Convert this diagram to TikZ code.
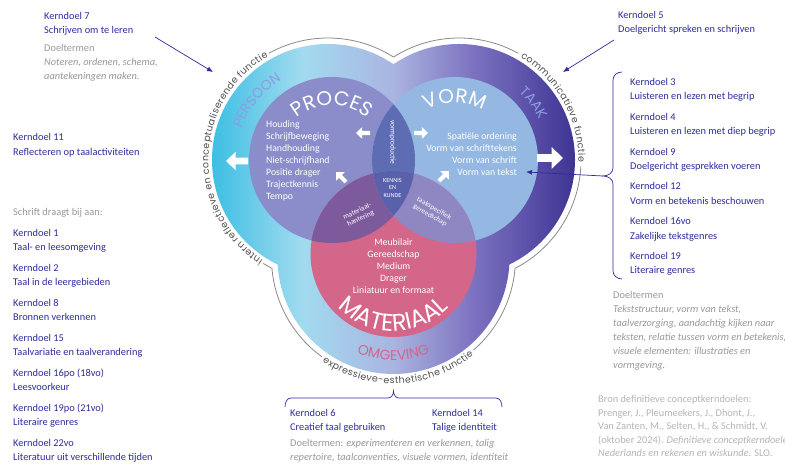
\documentclass[tikz,border=0pt]{standalone}
\usepackage{fontspec}
\setmainfont{Carlito}
\newfontfamily\geo{Poppins}
\usetikzlibrary{decorations.text,arrows.meta}
\definecolor{kdblue}{HTML}{2E2C9C}
\definecolor{dtgray}{HTML}{999999}
\definecolor{brongray}{HTML}{B5B5B5}
\definecolor{lblgray}{HTML}{505050}
\definecolor{linegray}{HTML}{8A8A8A}
\definecolor{fillP}{HTML}{8A8DC9}
\definecolor{fillV}{HTML}{95B8E2}
\definecolor{fillM}{HTML}{D4668A}
\definecolor{fillPV}{HTML}{5E6CB4}
\definecolor{fillPM}{HTML}{7C5A9C}
\definecolor{fillVM}{HTML}{8E87C2}
\definecolor{fillPVM}{HTML}{5961AA}
\definecolor{shA}{HTML}{3DBFE3}
\definecolor{shB}{HTML}{A2DBF0}
\definecolor{shC}{HTML}{AAB4E0}
\definecolor{shD}{HTML}{7C72C0}
\definecolor{shE}{HTML}{3E3494}
\definecolor{persoon}{HTML}{8C9DE0}
\definecolor{omgeving}{HTML}{D4668A}
\pgfdeclarehorizontalshading{outershade}{100bp}{color(0bp)=(shA); color(25bp)=(shA); color(37.5bp)=(shB); color(50bp)=(shC); color(61bp)=(shD); color(75bp)=(shE); color(100bp)=(shE)}
\begin{document}
\begin{tikzpicture}[x=1bp,y=1bp,
  kd/.style={anchor=base west,inner sep=0pt,text=kdblue,font=\fontsize{10.4}{12}\selectfont},
  dt/.style={kd,text=dtgray},
  bron/.style={kd,text=brongray},
  lst/.style={inner sep=0pt,text=white,font=\fontsize{9.8}{12}\selectfont},
  tinytxt/.style={inner sep=0pt,text=white,font=\fontsize{7.3}{8}\selectfont,align=center},
  outl/.style={draw=linegray,line width=0.8bp},
  annarrow/.style={draw=kdblue,line width=0.7bp,-{Latex[length=6bp,width=5bp]}},
  bracestyle/.style={draw=kdblue,line width=0.7bp},
  blockarrow/.pic={\fill[white] (-0.5,-0.15) -- (0.06,-0.15) -- (0.06,-0.42) -- (0.5,0) -- (0.06,0.42) -- (0.06,0.15) -- (-0.5,0.15) -- cycle;}
]
\useasboundingbox (0,0) rectangle (785,466);
\fill[white] (0,0) rectangle (785,466);
\coordinate (oL) at (328,306);
\coordinate (oR) at (459,306);
\coordinate (oB) at (393.5,208);
\coordinate (iP) at (332,306);
\coordinate (iV) at (455,306);
\coordinate (iM) at (393.5,212);

% outer coloured band
\shade[shading=outershade] (oL) circle[radius=116bp] (oR) circle[radius=116bp] (oB) circle[radius=116bp];

% outline
\draw[outl] (oL) ++(57.5:122bp) arc[start angle=57.5,end angle=119,radius=122bp];
\draw[outl] (oL) ++(238:122bp) arc[start angle=238,end angle=242.6,radius=122bp];
\draw[outl] (oR) ++(61:122bp) arc[start angle=61,end angle=122.5,radius=122bp];
\draw[outl] (oR) ++(-3:122bp) arc[start angle=-3,end angle=-62.6,radius=122bp];
\draw[outl] (oB) ++(184.8:122bp) arc[start angle=184.8,end angle=234,radius=122bp];
\draw[outl] (oB) ++(311:122bp) arc[start angle=311,end angle=355.2,radius=122bp];

% outline labels
\path[decorate,decoration={text along path,text color=lblgray,raise=-2.5bp,text align={fit to path},
  text={|\geo\fontsize{9.5}{10}\selectfont|intern reflectieve en conceptualiserende functie}}]
  (oL) ++(237:122bp) arc[start angle=237,end angle=120,radius=122bp];
\path[decorate,decoration={text along path,text color=lblgray,raise=-2.5bp,text align={fit to path},
  text={|\geo\fontsize{9.5}{10}\selectfont|communicatieve functie}}]
  (oR) ++(59:122bp) arc[start angle=59,end angle=-1,radius=122bp];
\path[decorate,decoration={text along path,text color=lblgray,raise=-3.8bp,text align={fit to path},
  text={|\geo\fontsize{9.5}{10}\selectfont|expressieve-esthetische functie}}]
  (oB) ++(235.5:122bp) arc[start angle=235.5,end angle=309.5,radius=122bp];

% band labels
\path[decorate,decoration={text along path,text color=persoon,text align=center,
  text={|\geo\fontsize{14}{14}\selectfont|PERSOON}}]
  (oL) ++(185:92bp) arc[start angle=185,end angle=95,radius=92bp];
\path[decorate,decoration={text along path,text color=persoon,text align=center,
  text={|\geo\fontsize{14}{14}\selectfont|TAAK}}]
  (oR) ++(65:90bp) arc[start angle=65,end angle=10,radius=90bp];
\path[decorate,decoration={text along path,text color=omgeving,text align=center,
  text={|\geo\fontsize{14}{14}\selectfont|OMGEVING}}]
  (iM) ++(225:106bp) arc[start angle=225,end angle=315,radius=106bp];

% inner circles
\fill[fillP] (iP) circle[radius=83bp];
\fill[fillV] (iV) circle[radius=83bp];
\fill[fillM] (iM) circle[radius=83bp];
\begin{scope}
  \clip (iP) circle[radius=83bp];
  \fill[fillPV] (iV) circle[radius=83bp];
  \fill[fillPM] (iM) circle[radius=83bp];
\end{scope}
\begin{scope}
  \clip (iV) circle[radius=83bp];
  \fill[fillVM] (iM) circle[radius=83bp];
\end{scope}
\begin{scope}
  \clip (iP) circle[radius=83bp];
  \clip (iV) circle[radius=83bp];
  \fill[fillPVM] (iM) circle[radius=83bp];
\end{scope}

% circle titles
\path[decorate,decoration={text along path,text color=white,text align=center,
  text={|\geo\fontsize{20}{20}\selectfont|PROCES}}]
  (iP) ++(150:55bp) arc[start angle=150,end angle=30,radius=55bp];
\path[decorate,decoration={text along path,text color=white,text align=center,
  text={|\geo\fontsize{20}{20}\selectfont|VORM}}]
  (iV) ++(150:57bp) arc[start angle=150,end angle=30,radius=57bp];
\path[decorate,decoration={text along path,text color=white,text align=center,
  text={|\geo\fontsize{24}{24}\selectfont|MATERIAAL}}]
  (iM) ++(195:77bp) arc[start angle=195,end angle=345,radius=77bp];

% lists
\node[lst,anchor=base west] (p1) at (266,338.6) {Houding};
\node[lst,anchor=base west] (p2) at (266,326.6) {Schrijfbeweging};
\node[lst,anchor=base west] (p3) at (266,314.6) {Handhouding};
\node[lst,anchor=base west] (p4) at (266,302.6) {Niet-schrijfhand};
\node[lst,anchor=base west] (p5) at (266,290.6) {Positie drager};
\node[lst,anchor=base west] (p6) at (266,278.6) {Trajectkennis};
\node[lst,anchor=base west] (p7) at (266,266.6) {Tempo};
\node[lst,anchor=base east] (v1) at (517,326.6) {Spatiële ordening};
\node[lst,anchor=base east] (v2) at (517,314.6) {Vorm van schrifttekens};
\node[lst,anchor=base east] (v3) at (517,302.6) {Vorm van schrift};
\node[lst,anchor=base east] (v4) at (517,290.6) {Vorm van tekst};
\node[lst,anchor=base] (m1) at (393.5,220.6) {Meubilair};
\node[lst,anchor=base] (m2) at (393.5,208.6) {Gereedschap};
\node[lst,anchor=base] (m3) at (393.5,196.6) {Medium};
\node[lst,anchor=base] (m4) at (393.5,184.6) {Drager};
\node[lst,anchor=base] (m5) at (393.5,172.6) {Liniatuur en formaat};

% overlap labels
\node[tinytxt,rotate=-90] (vp) at (392.5,324) {vormproductie};
\node[tinytxt,font=\fontsize{6.2}{8}\selectfont] (kk) at (392.5,278) {KENNIS\\EN\\KUNDE};
\node[tinytxt,rotate=25] (mh) at (359,251) {materiaal-\\hantering};
\node[tinytxt,rotate=-30] (tg) at (432,254) {taakspecifiek\\gereedschap};

% white block arrows
\pic[rotate=180,scale=22] (aL) at (237,305) {blockarrow};
\pic[scale=26] (aR) at (550,308) {blockarrow};
\pic[rotate=180,scale=14] (aPl) at (363,333) {blockarrow};
\pic[scale=14] (aVr) at (421,333) {blockarrow};
\pic[rotate=135,scale=14] (aPu) at (341,289) {blockarrow};
\pic[rotate=45,scale=14] (aVu) at (444,290) {blockarrow};

% left annotations
\node[kd] (k7) at (44,446.4) {Kerndoel 7};
\node[kd] (k7t) at (44,432.4) {Schrijven om te leren};
\node[dt] (k7d) at (44,414.1) {Doeltermen};
\node[dt] (k7d1) at (44,400.1) {\itshape Noteren, ordenen, schema,};
\node[dt] (k7d2) at (44,386.4) {\itshape aantekeningen maken.};
\coordinate (a7s) at (155,429);
\coordinate (a7e) at (213,394);
\draw[annarrow] (a7s) -- (a7e);

\node[kd] (k11) at (13,325.7) {Kerndoel 11};
\node[kd] (k11t) at (13,310.7) {Reflecteren op taalactiviteiten};
\node[dt] (sch) at (13,250.4) {Schrift draagt bij aan:};
\node[kd] (k1) at (13,229.4) {Kerndoel 1};
\node[kd] (k1t) at (13,215.4) {Taal- en leesomgeving};
\node[kd] (k2) at (13,194.4) {Kerndoel 2};
\node[kd] (k2t) at (13,180.4) {Taal in de leergebieden};
\node[kd] (k8) at (13,159.4) {Kerndoel 8};
\node[kd] (k8t) at (13,145.4) {Bronnen verkennen};
\node[kd] (k15) at (13,124.4) {Kerndoel 15};
\node[kd] (k15t) at (13,110.4) {Taalvariatie en taalverandering};
\node[kd] (k16) at (13,89.4) {Kerndoel 16po (18vo)};
\node[kd] (k16t) at (13,75.4) {Leesvoorkeur};
\node[kd] (k19l) at (13,54.4) {Kerndoel 19po (21vo)};
\node[kd] (k19lt) at (13,40.4) {Literaire genres};
\node[kd] (k22) at (13,19.4) {Kerndoel 22vo};
\node[kd] (k22t) at (13,5.4) {Literatuur uit verschillende tijden};

% right annotations
\node[kd] (k5) at (618,447.4) {Kerndoel 5};
\node[kd] (k5t) at (618,433) {Doelgericht spreken en schrijven};
\coordinate (a5s) at (614,426);
\coordinate (a5e) at (563,394);
\draw[annarrow] (a5s) -- (a5e);

\node[kd] (k3) at (630,380.4) {Kerndoel 3};
\node[kd] (k3t) at (630,366) {Luisteren en lezen met begrip};
\node[kd] (k4) at (630,345.6) {Kerndoel 4};
\node[kd] (k4t) at (630,331.2) {Luisteren en lezen met diep begrip};
\node[kd] (k9) at (630,310.8) {Kerndoel 9};
\node[kd] (k9t) at (630,296.4) {Doelgericht gesprekken voeren};
\node[kd] (k12) at (630,276) {Kerndoel 12};
\node[kd] (k12t) at (630,261.6) {Vorm en betekenis beschouwen};
\node[kd] (k16r) at (630,241.2) {Kerndoel 16vo};
\node[kd] (k16rt) at (630,226.8) {Zakelijke tekstgenres};
\node[kd] (k19) at (630,206.4) {Kerndoel 19};
\node[kd] (k19t) at (630,192) {Literaire genres};
\draw[bracestyle] (622,394) to[out=180,in=90] (613,386) -- (613,298) to[out=-90,in=0] (603,290)
  to[out=0,in=90] (613,282) -- (613,195) to[out=-90,in=180] (622,187);
\coordinate (bts) at (603,290);
\coordinate (bte) at (526,294);
\draw[annarrow] (bts) -- (bte);

\node[dt] (rd) at (613,167.4) {Doeltermen};
\node[dt] (rd1) at (613,153.4) {\itshape Tekststructuur, vorm van tekst,};
\node[dt] (rd2) at (613,139.4) {\itshape taalverzorging, aandachtig kijken naar};
\node[dt] (rd3) at (613,125.4) {\itshape teksten, relatie tussen vorm en betekenis,};
\node[dt] (rd4) at (613,111.4) {\itshape visuele elementen: illustraties en};
\node[dt] (rd5) at (613,97.4) {\itshape vormgeving.};

\node[bron] (b1) at (598,63.4) {Bron definitieve conceptkerndoelen:};
\node[bron] (b2) at (598,49.9) {Prenger, J., Pleumeekers, J., Dhont, J.,};
\node[bron] (b3) at (598,36.4) {Van Zanten, M., Selten, H., \& Schmidt, V.};
\node[bron] (b4) at (598,22.9) {(oktober 2024). \textit{Definitieve conceptkerndoelen}};
\node[bron] (b5) at (598,9.4) {\textit{Nederlands en rekenen en wiskunde}. SLO.};

% bottom annotations
\draw[bracestyle] (285,59) to[out=90,in=180] (291,68) -- (388,68) to[out=0,in=-90] (393.5,75)
  to[out=-90,in=180] (399,68) -- (496,68) to[out=0,in=90] (502,59);
\node[kd] (k6) at (290,49.4) {Kerndoel 6};
\node[kd] (k6t) at (290,35.4) {Creatief taal gebruiken};
\node[kd] (k14) at (432,49.4) {Kerndoel 14};
\node[kd] (k14t) at (432,35.4) {Talige identiteit};
\node[dt] (bd1) at (290,19.4) {Doeltermen: \textit{experimenteren en verkennen, talig}};
\node[dt] (bd2) at (290,5.4) {\textit{repertoire, taalconventies, visuele vormen, identiteit}};
\end{tikzpicture}
\end{document}
